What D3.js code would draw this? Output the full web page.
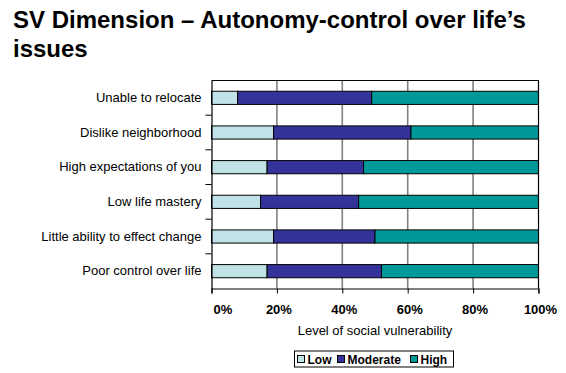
<!DOCTYPE html>
<html>
<head>
<meta charset="utf-8">
<script src="https://cdn.jsdelivr.net/npm/d3@7"></script>
<style>
  html, body { margin: 0; padding: 0; background: #fff; }
  svg { display: block; font-family: Arial, "Liberation Sans", sans-serif; }
</style>
</head>
<body>
<svg id="chart" width="566" height="373"></svg>
<script>
// Survey items (top to bottom) and the share of respondents per vulnerability level (%)
const categories = [
  "Unable to relocate",
  "Dislike neighborhood",
  "High expectations of you",
  "Low life mastery",
  "Little ability to effect change",
  "Poor control over life"
];
const lowValues      = [8, 19, 17, 15, 19, 17];
const moderateValues = [41, 42, 29.5, 30, 31, 35];
const highValues     = [51, 39, 53.5, 55, 50, 48];

const seriesNames = ["Low", "Moderate", "High"];
const seriesColors = ["#bfe3e6", "#333399", "#009999"];
const tickValues = [0, 20, 40, 60, 80, 100];
const tickLabels = ["0%", "20%", "40%", "60%", "80%", "100%"];

const svg = d3.select("#chart");
const plot = { left: 211.5, right: 538.5, top: 80.5, bottom: 288.5 };

// Title
const title = svg.append("text")
  .attr("x", 13).attr("y", 28)
  .attr("font-size", 24).attr("font-weight", "bold").attr("fill", "#000");
title.append("tspan").attr("x", 13).attr("dy", 0).text("SV Dimension \u2013 Autonomy-control over life\u2019s");
title.append("tspan").attr("x", 13).attr("dy", 29).text("issues");

const x = d3.scaleLinear().domain([0, 100]).range([plot.left, plot.right]);
const y = d3.scaleBand().domain(categories).range([plot.top, plot.bottom])
  .paddingInner(0.62).paddingOuter(0.31);

// Table of rows built from the series arrays, then stacked
const rows = categories.map((c, i) => ({
  category: c, Low: lowValues[i], Moderate: moderateValues[i], High: highValues[i]
}));
const stacked = d3.stack().keys(seriesNames)(rows);

// Plot background + vertical gridlines
svg.append("rect")
  .attr("x", plot.left).attr("y", plot.top)
  .attr("width", plot.right - plot.left).attr("height", plot.bottom - plot.top)
  .attr("fill", "#fff");

svg.append("g")
  .selectAll("line")
  .data(tickValues.slice(1, -1))
  .join("line")
  .attr("x1", d => x(d)).attr("x2", d => x(d))
  .attr("y1", plot.top).attr("y2", plot.bottom)
  .attr("stroke", "#808080").attr("stroke-width", 1.6);

// Stacked bars
svg.append("g")
  .selectAll("g")
  .data(stacked)
  .join("g")
  .attr("fill", (d, i) => seriesColors[i])
  .selectAll("rect")
  .data(d => d)
  .join("rect")
  .attr("x", d => x(d[0]))
  .attr("y", d => y(d.data.category))
  .attr("width", d => x(d[1]) - x(d[0]))
  .attr("height", y.bandwidth())
  .attr("stroke", "#000").attr("stroke-width", 1);

// Plot frame (top and right)
svg.append("path")
  .attr("d", `M${plot.left},${plot.top}H${plot.right}V${plot.bottom}`)
  .attr("fill", "none").attr("stroke", "#000").attr("stroke-width", 1.2);

// X axis
const xAxis = svg.append("g")
  .attr("transform", `translate(0,${plot.bottom})`)
  .call(d3.axisBottom(x).tickValues(tickValues)
    .tickFormat((d, i) => tickLabels[i]).tickSize(5).tickPadding(11));
xAxis.select(".domain").attr("stroke", "#000").attr("stroke-width", 1.2);
xAxis.selectAll(".tick line").attr("stroke", "#000");
xAxis.selectAll(".tick text")
  .attr("font-size", 13).attr("font-weight", "bold").attr("fill", "#000")
  .attr("font-family", "Arial, 'Liberation Sans', sans-serif")
  .attr("dx", 1.5)
  .attr("text-anchor", (d, i) => i === 0 ? "start" : "middle");

// Y axis: labels centred on bands, ticks on band boundaries
const yAxis = svg.append("g")
  .attr("transform", `translate(${plot.left},0)`)
  .call(d3.axisLeft(y).tickSize(0).tickPadding(10));
yAxis.select(".domain").attr("stroke", "#000").attr("stroke-width", 1.2);
yAxis.selectAll(".tick text")
  .attr("font-size", 13).attr("fill", "#000")
  .attr("font-family", "Arial, 'Liberation Sans', sans-serif");
const step = y.step();
yAxis.append("g")
  .selectAll("line")
  .data(d3.range(1, categories.length))
  .join("line")
  .attr("x1", -6).attr("x2", 0)
  .attr("y1", i => plot.top + i * (plot.bottom - plot.top) / categories.length)
  .attr("y2", i => plot.top + i * (plot.bottom - plot.top) / categories.length)
  .attr("stroke", "#000");

// Axis title
svg.append("text")
  .attr("x", 375).attr("y", 335)
  .attr("text-anchor", "middle").attr("font-size", 13).attr("fill", "#000")
  .text("Level of social vulnerability");

// Legend
const legend = svg.append("g").attr("transform", "translate(294.5,351)");
legend.append("rect")
  .attr("width", 159).attr("height", 16)
  .attr("fill", "#fff").attr("stroke", "#000").attr("stroke-width", 1);
const legendX = [3, 43, 116];
const items = legend.selectAll("g.item")
  .data(seriesNames)
  .join("g").attr("class", "item")
  .attr("transform", (d, i) => `translate(${legendX[i]},0)`);
items.append("rect")
  .attr("x", 0).attr("y", 4.5).attr("width", 7).attr("height", 7)
  .attr("fill", (d, i) => seriesColors[i]).attr("stroke", "#000").attr("stroke-width", 1);
items.append("text")
  .attr("x", 10).attr("y", 12.5)
  .attr("font-size", 12).attr("font-weight", "bold").attr("fill", "#000")
  .text(d => d);
</script>
</body>
</html>
